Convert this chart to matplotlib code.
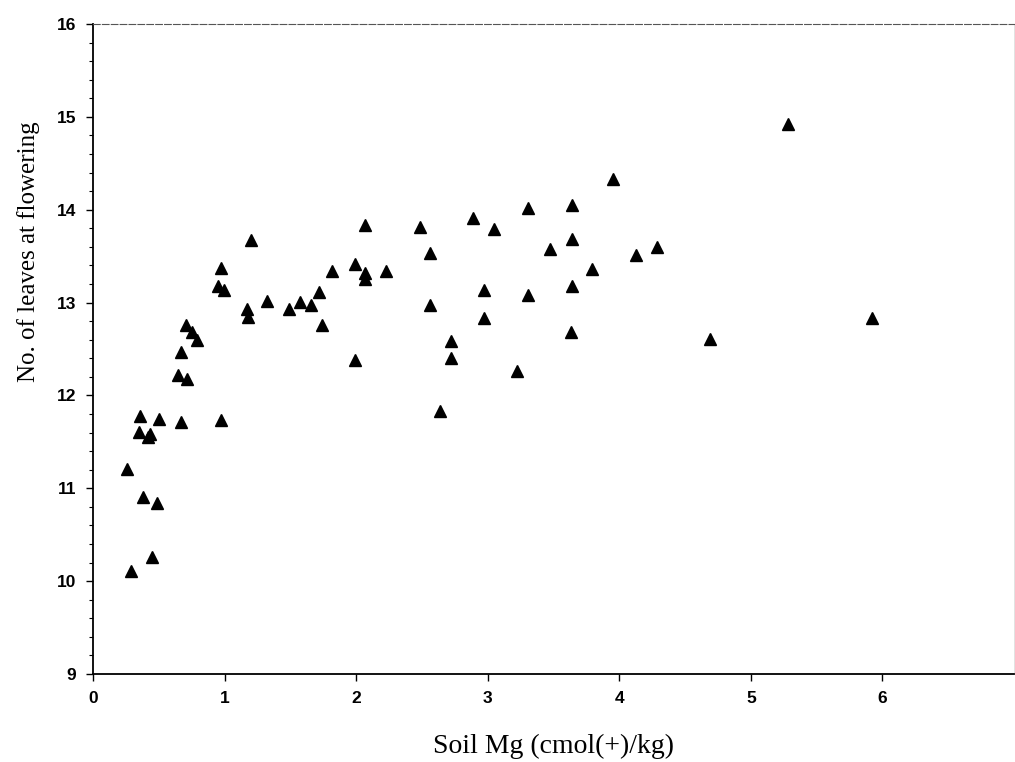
import matplotlib
matplotlib.use("Agg")
import matplotlib.pyplot as plt
from matplotlib.ticker import MultipleLocator

# Soil Mg (cmol(+)/kg) vs no. of leaves at flowering
soil_mg = [1.20, 0.975, 0.95, 0.995, 1.17, 1.18, 1.32, 1.49, 1.57, 1.66,
           1.72, 1.74, 1.82, 1.99, 2.07, 2.07, 2.07, 2.23, 1.99, 2.485,
           2.565, 2.56, 2.72, 2.72, 2.64, 2.89, 3.05, 2.97, 2.97, 3.31,
           3.305, 3.22, 3.47, 0.71, 0.75, 0.79, 0.67, 0.645, 0.715,
           5.28, 3.955, 3.64, 3.64, 4.29, 4.125, 3.795, 3.64, 3.635, 4.69, 5.92,
           0.36, 0.50, 0.67, 0.97, 0.35, 0.43, 0.42, 0.26, 0.38, 0.49, 0.45, 0.29]
leaves = [13.67, 13.37, 13.18, 13.14, 12.93, 12.84, 13.02, 12.93, 13.01, 12.97,
          13.11, 12.76, 13.34, 13.41, 13.32, 13.25, 13.84, 13.34, 12.38, 13.81,
          13.53, 12.97, 12.59, 12.40, 11.83, 13.91, 13.79, 13.13, 12.83, 14.02,
          13.08, 12.26, 13.58, 12.76, 12.68, 12.60, 12.47, 12.22, 12.18,
          14.92, 14.33, 14.05, 13.68, 13.60, 13.51, 13.36, 13.18, 12.68, 12.61, 12.83,
          11.78, 11.75, 11.71, 11.74, 11.61, 11.58, 11.55, 11.21, 10.91, 10.84, 10.26, 10.11]

fig = plt.figure(figsize=(10.15, 7.62), dpi=100)
ax = fig.add_axes([0.0916, 0.1155, 0.9074, 0.853])

ax.plot(soil_mg, leaves, linestyle="none", marker="^", markersize=9,
        color="black")

ax.set_xlim(0, 7)
ax.set_ylim(9, 16)
ax.set_xticks(range(0, 7))
ax.yaxis.set_major_locator(MultipleLocator(1))
ax.yaxis.set_minor_locator(MultipleLocator(0.2))

ax.tick_params(axis="both", which="major", direction="out", length=5,
               width=1, pad=7)
ax.tick_params(axis="y", which="minor", direction="out", length=3, width=0.8)
for lab in ax.get_xticklabels() + ax.get_yticklabels():
    lab.set_fontfamily("Liberation Sans")
    lab.set_fontweight("bold")
    lab.set_fontsize(12.5)

ax.spines["left"].set_linewidth(1.3)
ax.spines["bottom"].set_linewidth(1.3)
ax.spines["top"].set_linewidth(0.8)
ax.spines["top"].set_color("#555555")
ax.spines["top"].set_linestyle((0, (6, 2)))
ax.spines["right"].set_linewidth(0.6)
ax.spines["right"].set_color("#dddddd")

ax.set_xlabel("Soil Mg (cmol(+)/kg)", fontfamily="Liberation Serif",
              fontsize=20, labelpad=20)
ax.set_ylabel("No. of leaves at flowering", fontfamily="Liberation Serif",
              fontsize=18)
ax.yaxis.set_label_coords(-0.058, 0.65)

fig.savefig("out.png", dpi=100)
